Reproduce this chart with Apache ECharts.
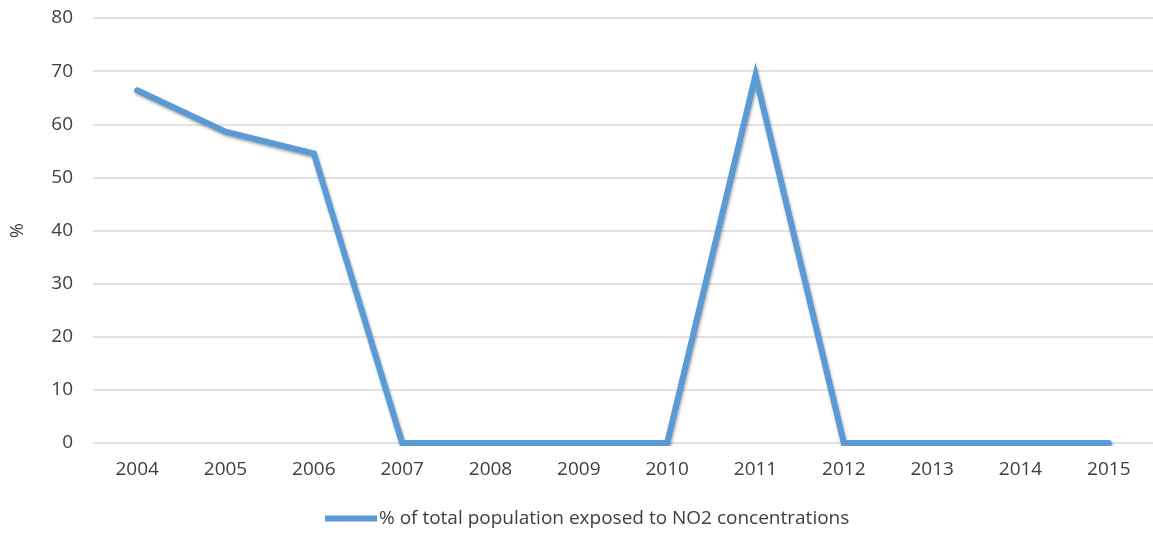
<!DOCTYPE html>
<html>
<head>
<meta charset="utf-8">
<script src="https://cdn.jsdelivr.net/npm/echarts@6/dist/echarts.min.js"></script>
<style>
  html, body { margin: 0; padding: 0; background: #ffffff; }
  #chart { width: 1153px; height: 537px; }
</style>
</head>
<body>
<div id="chart"></div>
<script>
// Years on the category axis
const years = ['2004', '2005', '2006', '2007', '2008', '2009', '2010', '2011', '2012', '2013', '2014', '2015'];
// Share of the total population exposed to NO2 concentrations (%)
const exposedShare = [66.4, 58.6, 54.5, 0, 0, 0, 0, 69.2, 0, 0, 0, 0];
const seriesName = '% of total population exposed to NO2 concentrations';
const yTicks = { min: 0, max: 80, interval: 10 };

const font = '"Open Sans", "DejaVu Sans", sans-serif';
const chart = echarts.init(document.getElementById('chart'), null, { renderer: 'canvas' });

chart.setOption({
  backgroundColor: '#ffffff',
  animation: false,
  grid: { left: 93, right: -4, top: 18, bottom: 94, containLabel: false },
  xAxis: {
    type: 'category',
    data: years,
    boundaryGap: true,
    axisLine: { show: false },
    axisTick: { show: false },
    axisLabel: { color: '#404040', fontFamily: font, fontSize: 19, margin: 17 }
  },
  yAxis: {
    type: 'value',
    min: yTicks.min,
    max: yTicks.max,
    interval: yTicks.interval,
    name: '%',
    nameLocation: 'middle',
    nameGap: 66,
    nameRotate: 90,
    nameTextStyle: { color: '#404040', fontFamily: font, fontSize: 18 },
    axisLine: { show: false },
    axisTick: { show: false },
    axisLabel: { color: '#404040', fontFamily: font, fontSize: 19, margin: 20 },
    splitLine: { lineStyle: { color: '#d9d9d9', width: 1.5 } }
  },
  legend: {
    bottom: 4,
    left: 320,
    icon: 'rect',
    itemWidth: 52,
    itemHeight: 6,
    itemGap: 2,
    textStyle: { color: '#404040', fontFamily: font, fontSize: 19, padding: [0, 0, 0, -3] },
    data: [seriesName]
  },
  series: [{
    name: seriesName,
    type: 'line',
    data: exposedShare,
    symbol: 'none',
    color: '#5b9bd5',
    lineStyle: {
      color: '#5b9bd5',
      width: 6,
      cap: 'round',
      join: 'miter',
      shadowColor: 'rgba(0,0,0,0.35)',
      shadowBlur: 3,
      shadowOffsetX: 1,
      shadowOffsetY: 2
    },
    itemStyle: { color: '#5b9bd5' }
  }]
});
</script>
</body>
</html>
